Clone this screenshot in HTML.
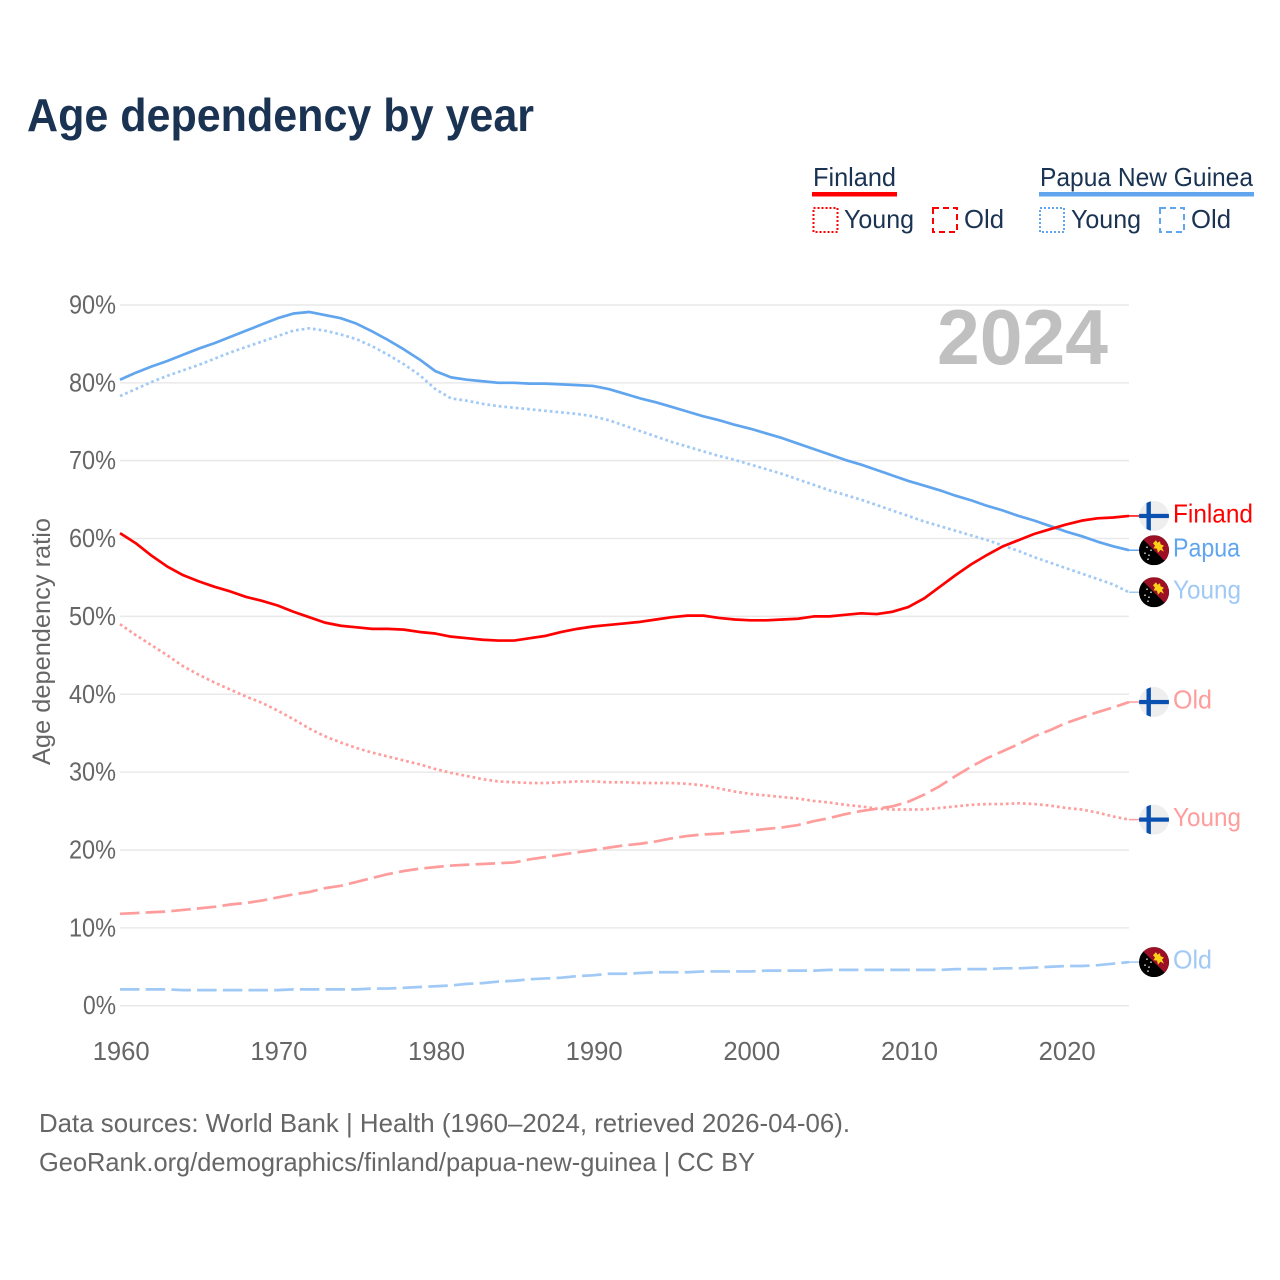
<!DOCTYPE html>
<html lang="en">
<head>
<meta charset="utf-8">
<title>Age dependency by year</title>
<style>
html,body{margin:0;padding:0;background:#fff}
svg{display:block}
text{font-family:"Liberation Sans",sans-serif}
</style>
</head>
<body>
<svg id="chart" xmlns="http://www.w3.org/2000/svg" width="1280" height="1280" viewBox="0 0 1280 1280">
  <defs>
    <clipPath id="flag-clip"><circle cx="0" cy="0" r="15"/></clipPath>
    <g id="flag-fi">
      <g clip-path="url(#flag-clip)">
        <rect x="-15" y="-15" width="30" height="30" fill="#eeeeee"/>
        <rect x="-7.5" y="-15" width="4.4" height="30" fill="#0a50b0"/>
        <rect x="-15" y="-2.1" width="30" height="4.2" fill="#0a50b0"/>
      </g>
    </g>
    <g id="flag-pg">
      <g clip-path="url(#flag-clip)">
        <rect x="-15" y="-15" width="30" height="30" fill="#000"/>
        <polygon points="-15,-15 15,-15 15,15" fill="#9c0f25"/>
        <path d="M-1,-7 L2,-10 L3.5,-7.5 L6,-9 L6.5,-6 L10,-4.5 L8,-2.5 L10,1.5 L6.5,-0.5 L4,2.5 L3,-1.5 L-0.5,-2 L1,-4.5 Z" fill="#fcd116"/>
        <circle cx="-7" cy="-3" r="0.9" fill="#cccccc"/>
        <circle cx="-3" cy="0" r="0.9" fill="#cccccc"/>
        <circle cx="-9" cy="3" r="0.9" fill="#cccccc"/>
        <circle cx="-5" cy="5" r="0.9" fill="#cccccc"/>
        <circle cx="-6" cy="9" r="0.9" fill="#cccccc"/>
      </g>
    </g>
  </defs>

  <text x="27" y="131" font-size="46" font-weight="700" fill="#1a3353" textLength="507" lengthAdjust="spacingAndGlyphs">Age dependency by year</text>

  <g font-size="26" fill="#1a3353">
    <text x="813" y="186" textLength="83" lengthAdjust="spacingAndGlyphs">Finland</text>
    <rect x="812" y="192" width="85" height="4.5" fill="#ff0000"/>
    <rect x="813.5" y="208" width="24" height="24" fill="none" stroke="#ff0000" stroke-width="2" stroke-dasharray="2 2"/>
    <text x="844" y="228" textLength="70" lengthAdjust="spacingAndGlyphs">Young</text>
    <rect x="933" y="208" width="24" height="24" fill="none" stroke="#ff0000" stroke-width="2" stroke-dasharray="6 4"/>
    <text x="964" y="228" textLength="40" lengthAdjust="spacingAndGlyphs">Old</text>
    <text x="1040" y="186" textLength="213" lengthAdjust="spacingAndGlyphs">Papua New Guinea</text>
    <rect x="1039" y="192" width="215" height="4.5" fill="#60a5ee"/>
    <rect x="1040" y="208" width="24" height="24" fill="none" stroke="#60a5ee" stroke-width="2" stroke-dasharray="2 2"/>
    <text x="1071" y="228" textLength="70" lengthAdjust="spacingAndGlyphs">Young</text>
    <rect x="1160" y="208" width="24" height="24" fill="none" stroke="#60a5ee" stroke-width="2" stroke-dasharray="6 4"/>
    <text x="1191" y="228" textLength="40" lengthAdjust="spacingAndGlyphs">Old</text>
  </g>

  <g id="grid"></g>
  <text x="937" y="364" font-size="78" font-weight="700" fill="#c0c0c0" textLength="171" lengthAdjust="spacingAndGlyphs">2024</text>
  <g id="y-ticks"></g>
  <g id="x-ticks"></g>
  <text transform="translate(50,765) rotate(-90)" font-size="25" fill="#666666" textLength="247" lengthAdjust="spacingAndGlyphs">Age dependency ratio</text>
  <g id="series"></g>
  <g id="end-labels"></g>

  <text x="39" y="1132" font-size="26" fill="#666666" textLength="811" lengthAdjust="spacingAndGlyphs">Data sources: World Bank | Health (1960–2024, retrieved 2026-04-06).</text>
  <text x="39" y="1171" font-size="26" fill="#666666" textLength="716" lengthAdjust="spacingAndGlyphs">GeoRank.org/demographics/finland/papua-new-guinea | CC BY</text>
</svg>
<script>
const yTickValues = [0, 10, 20, 30, 40, 50, 60, 70, 80, 90];
const xTickYears = [1960, 1970, 1980, 1990, 2000, 2010, 2020];
const firstYear = 1960;
const lastYear = 2024;

const finlandTotal = [60.7,59.4,57.8,56.4,55.3,54.5,53.8,53.2,52.5,52.0,
  51.4,50.6,49.9,49.2,48.8,48.6,48.4,48.4,48.3,48.0,
  47.8,47.4,47.2,47.0,46.9,46.9,47.2,47.5,48.0,48.4,
  48.7,48.9,49.1,49.3,49.6,49.9,50.1,50.1,49.8,49.6,
  49.5,49.5,49.6,49.7,50.0,50.0,50.2,50.4,50.3,50.6,
  51.2,52.3,53.8,55.3,56.7,57.9,59.0,59.8,60.6,61.2,
  61.8,62.3,62.6,62.7,62.9];
const finlandYoung = [49.0,47.6,46.3,45.0,43.6,42.5,41.5,40.6,39.7,38.9,
  37.9,36.8,35.6,34.6,33.8,33.1,32.5,32.0,31.5,31.0,
  30.4,29.9,29.5,29.1,28.8,28.7,28.6,28.6,28.7,28.8,
  28.8,28.7,28.7,28.6,28.6,28.6,28.5,28.3,27.9,27.5,
  27.2,27.0,26.8,26.6,26.3,26.1,25.8,25.6,25.3,25.2,
  25.2,25.2,25.4,25.6,25.8,25.9,25.9,26.0,25.9,25.7,
  25.4,25.2,24.8,24.3,23.9];
const finlandOld = [11.8,11.9,12.0,12.1,12.3,12.5,12.7,13.0,13.2,13.5,
  13.9,14.3,14.6,15.1,15.4,15.9,16.4,16.9,17.3,17.6,
  17.8,18.0,18.1,18.2,18.3,18.4,18.8,19.1,19.4,19.7,
  20.0,20.3,20.6,20.8,21.1,21.5,21.8,22.0,22.1,22.3,
  22.5,22.7,22.9,23.2,23.7,24.1,24.6,25.0,25.3,25.6,
  26.2,27.1,28.2,29.5,30.7,31.8,32.7,33.6,34.6,35.4,
  36.3,37.0,37.7,38.3,39.0];
const pngTotal = [80.4,81.3,82.1,82.8,83.6,84.4,85.1,85.9,86.7,87.5,
  88.3,88.9,89.1,88.7,88.3,87.6,86.6,85.5,84.3,83.0,
  81.5,80.7,80.4,80.2,80.0,80.0,79.9,79.9,79.8,79.7,
  79.6,79.2,78.6,78.0,77.5,76.9,76.3,75.7,75.2,74.6,
  74.1,73.5,72.9,72.2,71.5,70.8,70.1,69.5,68.8,68.1,
  67.4,66.8,66.2,65.5,64.9,64.2,63.6,62.9,62.3,61.6,
  60.9,60.3,59.6,59.0,58.5];
const pngYoung = [78.3,79.2,80.1,80.9,81.6,82.3,83.1,83.9,84.6,85.3,
  86.0,86.7,87.0,86.7,86.2,85.6,84.7,83.6,82.4,81.0,
  79.2,78.0,77.7,77.3,77.0,76.8,76.6,76.4,76.2,76.0,
  75.7,75.2,74.5,73.8,73.1,72.4,71.8,71.2,70.6,70.1,
  69.5,68.9,68.3,67.6,66.9,66.2,65.6,65.0,64.3,63.6,
  62.9,62.2,61.6,61.0,60.4,59.8,59.1,58.4,57.6,56.9,
  56.2,55.5,54.8,54.1,53.1];
const pngOld = [2.1,2.1,2.1,2.1,2.0,2.0,2.0,2.0,2.0,2.0,
  2.0,2.1,2.1,2.1,2.1,2.1,2.2,2.2,2.3,2.4,
  2.5,2.6,2.8,2.9,3.1,3.2,3.4,3.5,3.6,3.8,
  3.9,4.1,4.1,4.2,4.3,4.3,4.3,4.4,4.4,4.4,
  4.4,4.5,4.5,4.5,4.5,4.6,4.6,4.6,4.6,4.6,
  4.6,4.6,4.6,4.7,4.7,4.7,4.8,4.8,4.9,5.0,
  5.1,5.1,5.2,5.4,5.6];

const NS = 'http://www.w3.org/2000/svg';
const plotLeft = 120, plotRight = 1129, plotBottom = 1005.7, pxPerPercent = 7.786;
function xScale(year) { return plotLeft + (year - firstYear) * (plotRight - plotLeft) / (lastYear - firstYear); }
function yScale(v) { return plotBottom - v * pxPerPercent; }
function make(tag, attrs, parent) {
  const el = document.createElementNS(NS, tag);
  for (const k in attrs) el.setAttribute(k, attrs[k]);
  parent.appendChild(el);
  return el;
}

const gridG = document.getElementById('grid');
const yG = document.getElementById('y-ticks');
yTickValues.forEach(function (v) {
  const line = make('line', {x1: plotLeft, x2: plotRight, y1: yScale(v), y2: yScale(v), stroke: '#e9e9e9', 'stroke-width': 1.5}, gridG);
  
  
  const label = v + '%';
  const w = label.length === 2 ? 33 : 47;
  const t = make('text', {x: 116 - w, y: yScale(v) + 8.5, 'font-size': 26, fill: '#666666', textLength: w, lengthAdjust: 'spacingAndGlyphs'}, yG);
  
  
  t.textContent = label;
});

const xG = document.getElementById('x-ticks');
xTickYears.forEach(function (yr) {
  const t = make('text', {x: xScale(yr) + 1.2 - 28.5, y: 1060, 'font-size': 26, fill: '#666666', textLength: 57, lengthAdjust: 'spacingAndGlyphs'}, xG);
  
  
  t.textContent = String(yr);
});

const seriesG = document.getElementById('series');
const labelsG = document.getElementById('end-labels');
function drawSeries(values, color, dash, flag, labelText, labelWidth) {
  const d = values.map(function (v, i) {
    return (i ? 'L' : 'M') + xScale(firstYear + i).toFixed(2) + ',' + yScale(v).toFixed(2);
  }).join(' ');
  const attrs = {d: d, fill: 'none', stroke: color, 'stroke-width': 2.7, 'stroke-linejoin': 'round'};
  if (dash) attrs['stroke-dasharray'] = dash;
  const path = make('path', attrs, seriesG);
  
  
  const endV = values[values.length - 1];
  const conn = make('line', {x1: xScale(lastYear), x2: 1140, y1: yScale(endV), y2: yScale(endV), stroke: color, 'stroke-width': 1.5}, seriesG);
  
  
  const use = make('use', {href: flag, x: 1154, y: yScale(endV)}, labelsG);
  
  
  const t = make('text', {x: 1173, y: yScale(endV) + 6.3, 'font-size': 26, fill: color, textLength: labelWidth, lengthAdjust: 'spacingAndGlyphs'}, labelsG);
  
  
  t.textContent = labelText;
}
const dotted = '2.7 3';
const dashed = '19.5 6.2';
drawSeries(pngOld, '#a0c9f6', dashed, '#flag-pg', 'Old', 39);
drawSeries(pngYoung, '#a0c9f6', dotted, '#flag-pg', 'Young', 68);
drawSeries(finlandOld, '#ff9c9c', dashed, '#flag-fi', 'Old', 39);
drawSeries(finlandYoung, '#ff9c9c', dotted, '#flag-fi', 'Young', 68);
drawSeries(pngTotal, '#60a5ee', null, '#flag-pg', 'Papua', 67);
drawSeries(finlandTotal, '#ff0000', null, '#flag-fi', 'Finland', 80);
</script>
</body>
</html>
